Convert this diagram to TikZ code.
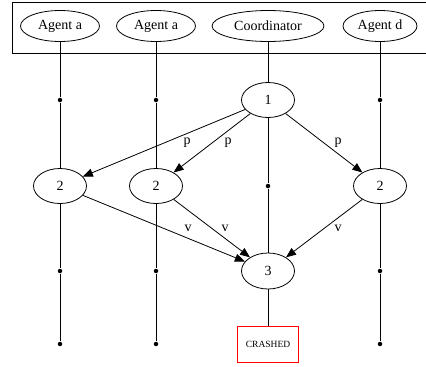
\documentclass[tikz,border=0pt]{standalone}
\usepackage{fontspec}
\setmainfont{Liberation Serif}
\usetikzlibrary{shapes.geometric,arrows.meta}

\begin{document}
\begin{tikzpicture}[
        x=1pt, y=-1pt,
        line width=0.8pt,
        font=\fontsize{14}{16}\selectfont,
        actor/.style={ellipse, draw, inner sep=0pt, minimum height=31pt},
        state/.style={ellipse, draw, inner sep=0pt, minimum width=53pt, minimum height=35pt},
        tick/.style={circle, fill, inner sep=0pt, minimum size=4.5pt},
        crash/.style={draw=red, rectangle, inner sep=0pt, minimum width=61pt, minimum height=36pt,
                      font=\fontsize{9.5}{11}\selectfont},
        life/.style={},
        msg edge/.style={-{Triangle[length=10pt,width=8pt]}}
    ]
        \useasboundingbox (0,0) rectangle (426,367);

        % Header with the processes
        \draw (12,2) rectangle (430,53);
        \node[actor, minimum width=79pt] (agA) at (60,26) {Agent a};
        \node[actor, minimum width=79pt] (agB) at (156,26) {Agent a};
        \node[actor, minimum width=112pt] (coord) at (268,26) {Coordinator};
        \node[actor, minimum width=74pt] (agD) at (380,26) {Agent d};

        % Steps
        \node[state] (s1) at (268,100) {1};
        \node[state] (s2a) at (60,186) {2};
        \node[state] (s2b) at (156,186) {2};
        \node[state] (s2d) at (380,186) {2};
        \node[state, minimum height=36pt] (s3) at (268,271) {3};
        \node[crash] (crashed) at (268,344) {CRASHED};

        % Ticks on the lifelines
        \node[tick] (a1) at (60,100) {};
        \node[tick] (a3) at (60,271) {};
        \node[tick] (a4) at (60,344) {};
        \node[tick] (b1) at (156,100) {};
        \node[tick] (b3) at (156,271) {};
        \node[tick] (b4) at (156,344) {};
        \node[tick] (c2) at (268,186) {};
        \node[tick] (d1) at (380,100) {};
        \node[tick] (d3) at (380,271) {};
        \node[tick] (d4) at (380,344) {};

        % Lifelines
        \draw[life] (agA) -- (a1) -- (s2a) -- (a3) -- (a4);
        \draw[life] (agB) -- (b1) -- (s2b) -- (b3) -- (b4);
        \draw[life] (coord) -- (s1) -- (c2) -- (s3) -- (crashed);
        \draw[life] (agD) -- (d1) -- (s2d) -- (d3) -- (d4);

        % Messages
        \draw[msg edge] (s1) -- (s2a);
        \draw[msg edge] (s1) -- (s2b);
        \draw[msg edge] (s1) -- (s2d);
        \draw[msg edge] (s2a) -- (s3);
        \draw[msg edge] (s2b) -- (s3);
        \draw[msg edge] (s2d) -- (s3);

        \node (lp1) at (187,143) {p};
        \node (lp2) at (228,143) {p};
        \node (lp3) at (338,143) {p};
        \node (lv1) at (188,228) {v};
        \node (lv2) at (225,228) {v};
        \node (lv3) at (338,228) {v};
    \end{tikzpicture}
\end{document}
